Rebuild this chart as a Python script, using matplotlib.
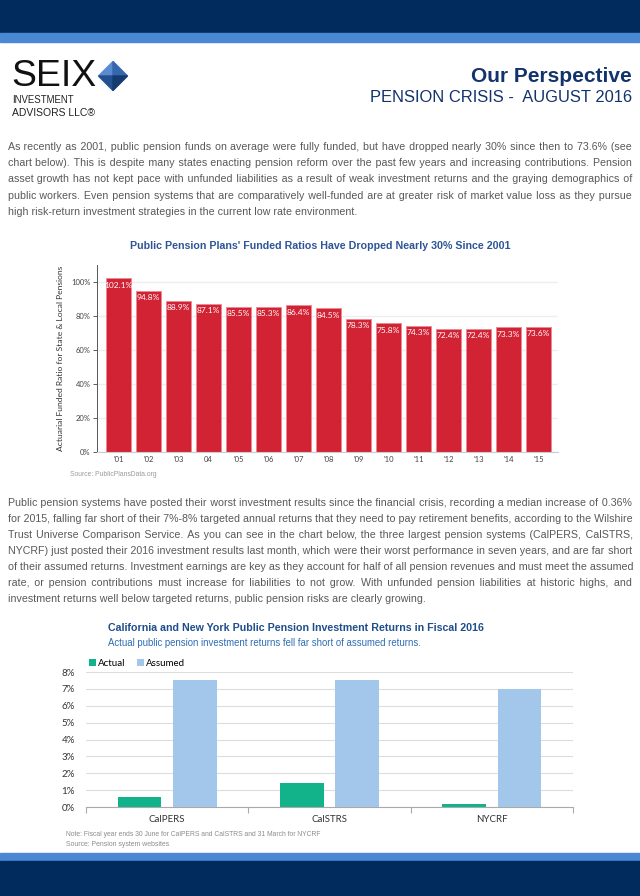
import matplotlib
matplotlib.use('Agg')
import matplotlib.pyplot as plt
from matplotlib import font_manager
from matplotlib.transforms import Affine2D
from matplotlib.patches import Rectangle, Polygon

# --- data ---
years = ["'01", "'02", "'03", "04", "'05", "'06", "'07", "'08", "'09", "'10", "'11", "'12", "'13", "'14", "'15"]
funded = [102.1, 94.8, 88.9, 87.1, 85.5, 85.3, 86.4, 84.5, 78.3, 75.8, 74.3, 72.4, 72.4, 73.3, 73.6]

systems = ['CalPERS', 'CalSTRS', 'NYCRF']
actual = [0.6, 1.4, 0.2]
assumed = [7.5, 7.5, 7.0]

para1 = [
    "As recently as 2001, public pension funds on average were fully funded, but have dropped nearly 30% since then to 73.6% (see",
    "chart below). This is despite many states enacting pension reform over the past few years and increasing contributions. Pension",
    "asset growth has not kept pace with unfunded liabilities as a result of weak investment returns and the graying demographics of",
    "public workers. Even pension systems that are comparatively well-funded are at greater risk of market value loss as they pursue",
    "high risk-return investment strategies in the current low rate environment.",
]
para2 = [
    "Public pension systems have posted their worst investment results since the financial crisis, recording a median increase of 0.36%",
    "for 2015, falling far short of their 7%-8% targeted annual returns that they need to pay retirement benefits, according to the Wilshire",
    "Trust Universe Comparison Service. As you can see in the chart below, the three largest pension systems (CalPERS, CalSTRS,",
    "NYCRF) just posted their 2016 investment results last month, which were their worst performance in seven years, and are far short",
    "of their assumed returns. Investment earnings are key as they account for half of all pension revenues and must meet the assumed",
    "rate, or pension contributions must increase for liabilities to not grow. With unfunded pension liabilities at historic highs, and",
    "investment returns well below targeted returns, public pension risks are clearly growing.",
]

names = {f.name for f in font_manager.fontManager.ttflist}
NARROW = ['Liberation Sans Narrow', 'Liberation Sans'] if 'Liberation Sans Narrow' in names else ['Liberation Sans']
BODY = NARROW + ['DejaVu Sans']
plt.rcParams['font.family'] = ['Liberation Sans', 'DejaVu Sans']

W, H = 640, 896
fig = plt.figure(figsize=(W / 100, H / 100), dpi=100)
R = fig.canvas.get_renderer()
# pixel coordinates measured from the top-left corner
PX = Affine2D().scale(1 / W, -1 / H).translate(0, 1) + fig.transFigure

NAVY = '#002b5c'
LIGHT = '#4a88d4'
GRAY = '#595959'
HAIR = '\u200a'


def ax_at(left, top, right, bottom):
    return fig.add_axes([left / W, 1 - bottom / H, (right - left) / W, (bottom - top) / H])


def width_of(s, size, **kw):
    t = fig.text(0, 0, s, fontsize=size, **kw)
    w = t.get_window_extent(R).width
    t.remove()
    return w


def fit(s, x, y, width, ha='left', va='center', **kw):
    # scale the font so the text spans the given pixel width
    t = fig.text(x, y, s, transform=PX, ha=ha, va=va, fontsize=10, **kw)
    bw = t.get_window_extent(R).width
    t.set_fontsize(10 * width / bw)
    return t


def justify(lines, x0, x1, y0, dy, size, **kw):
    # one text per line; gaps are widened with hair spaces so the line fills x0..x1
    hair = (width_of('a' + HAIR * 20 + 'a', size, **kw) - width_of('aa', size, **kw)) / 20
    hair = max(hair, 0.2)
    for i, line in enumerate(lines):
        words = line.split()
        text = line
        if i < len(lines) - 1:
            n = max(0, round((x1 - x0 - width_of(line, size, **kw)) / hair))
            gaps = len(words) - 1
            text = words[0]
            for g, w in enumerate(words[1:]):
                k = n * (g + 1) // gaps - n * g // gaps
                text += ' ' + HAIR * k + w
        fig.text(x0, y0 + i * dy, text, transform=PX, va='baseline', fontsize=size, **kw)


# --- page bands ---
fig.patches.append(Rectangle((0, 0), W, 33, transform=PX, color=NAVY))
fig.patches.append(Rectangle((0, 33), W, 9, transform=PX, color=LIGHT))
fig.patches.append(Rectangle((0, 853), W, 8, transform=PX, color=LIGHT))
fig.patches.append(Rectangle((0, 861), W, 35, transform=PX, color=NAVY))

# --- logo ---
fit('SEIX', 11, 77, 85, color='#111111')
cx, cy, r = 113, 76, 14.5
for pts, c in [([(cx - r, cy), (cx, cy - r), (cx, cy)], '#5a8bd0'),
               ([(cx, cy - r), (cx + r, cy), (cx, cy)], '#3567ad'),
               ([(cx - r, cy), (cx, cy + r), (cx, cy)], '#24508f'),
               ([(cx, cy + r), (cx + r, cy), (cx, cy)], '#143a70')]:
    fig.patches.append(Polygon(pts, closed=True, transform=PX, color=c))
fit('INVESTMENT', 12, 100, 62, color='#222222')
fit('ADVISORS LLC\u00ae', 12, 113, 83, color='#222222')

fit('Our Perspective', 632, 76, 161, ha='right', color='#13336b', fontweight='bold', family=NARROW)
fit('PENSION CRISIS -  AUGUST 2016', 632, 98, 262, ha='right', color='#13336b', family=NARROW)

# --- paragraphs ---
widest = max(width_of(l, 10, family=BODY) for l in para1 + para2)
psize = 10 * 621 / widest
justify(para1, 8, 632, 150, 16.2, psize, color=GRAY, family=BODY)
justify(para2, 8, 632, 506, 16.0, psize, color=GRAY, family=BODY)

# --- chart 1: funded ratios ---
fit("Public Pension Plans' Funded Ratios Have Dropped Nearly 30% Since 2001", 320, 246, 380,
    ha='center', color='#2f5597', fontweight='bold', family=NARROW)

ax1 = ax_at(97, 265, 558, 452)
x = range(len(years))
bars = ax1.bar(x, funded, width=0.83, color='#d22335', edgecolor='#ec8a92', linewidth=0.7, zorder=2)
for b, v in zip(bars, funded):
    ax1.annotate(f'{v:.1f}%', (b.get_x() + b.get_width() / 2, v), xytext=(0, -2.5),
                 textcoords='offset points', ha='center', va='top', color='white',
                 fontsize=6, family='Lato')
ax1.set_xlim(-0.72, len(years) - 0.35)
ax1.set_ylim(0, 110)
ax1.set_yticks(range(0, 101, 20))
ax1.set_yticklabels([f'{v}%' for v in range(0, 101, 20)])
ax1.set_xticks(list(x))
ax1.set_xticklabels(years)
ax1.tick_params(axis='y', labelsize=5.5, colors='#444444', length=3, width=0.6, pad=1.5)
ax1.tick_params(axis='x', labelsize=5.5, colors='#444444', length=0, pad=3)
for lab in ax1.get_xticklabels() + ax1.get_yticklabels():
    lab.set_family('Lato')
ax1.grid(axis='y', color='#eeeeee', linewidth=1, zorder=0)
for s in ['top', 'right']:
    ax1.spines[s].set_visible(False)
ax1.spines['left'].set_color('#555555')
ax1.spines['left'].set_linewidth(0.7)
ax1.spines['bottom'].set_color('#cccccc')
ax1.set_ylabel('Actuarial Funded Ratio for State & Local Pensions', fontsize=6.1, color='#333333',
               family='Lato', labelpad=5)
fit('Source: PublicPlansData.org', 70, 474, 87, color='#9a9a9a')

# --- chart 2: fiscal 2016 returns ---
fit('California and New York Public Pension Investment Returns in Fiscal 2016', 108, 628, 377,
    color='#1f4e8c', fontweight='bold', family=NARROW)
fit('Actual public pension investment returns fell far short of assumed returns.', 108, 643, 316,
    color='#2e6db4', family=NARROW)

ax2 = ax_at(86, 672, 573, 807)
pos = range(len(systems))
ax2.bar([p - 0.17 for p in pos], actual, width=0.27, color='#12b38b', label='Actual', zorder=2)
ax2.bar([p + 0.17 for p in pos], assumed, width=0.27, color='#a3c7eb', label='Assumed', zorder=2)
ax2.set_xlim(-0.5, len(systems) - 0.5)
ax2.set_ylim(0, 8)
ax2.set_yticks(range(0, 9))
ax2.set_yticklabels([f'{v}%' for v in range(0, 9)])
ax2.set_xticks(list(pos))
ax2.set_xticklabels(systems)
ax2.set_xticks([p - 0.5 for p in range(len(systems) + 1)], minor=True)
ax2.tick_params(axis='x', which='major', length=0, labelsize=7, colors='#333333', pad=6)
ax2.tick_params(axis='x', which='minor', length=4, color='#aaaaaa', width=0.8)
ax2.tick_params(axis='y', length=0, labelsize=7, colors='#333333', pad=8)
for lab in ax2.get_xticklabels() + ax2.get_yticklabels():
    lab.set_family('Lato')
ax2.grid(axis='y', color='#dddddd', linewidth=0.8, zorder=0)
for s in ['top', 'right', 'left']:
    ax2.spines[s].set_visible(False)
ax2.spines['bottom'].set_color('#aaaaaa')
ax2.legend(loc='lower left', bbox_to_anchor=(-0.005, 0.99), ncol=2, frameon=False,
           handlelength=0.7, handleheight=0.7, handletextpad=0.2, columnspacing=1.2,
           borderpad=0.1, prop={'family': 'Lato', 'size': 7})

fit('Note: Fiscal year ends 30 June for CalPERS and CalSTRS and 31 March for NYCRF', 66, 835, 257,
    color='#8c8c8c', family=NARROW)
fit('Source: Pension system websites', 66, 845, 102, color='#8c8c8c', family=NARROW)

fig.savefig('out.png', dpi=100)
